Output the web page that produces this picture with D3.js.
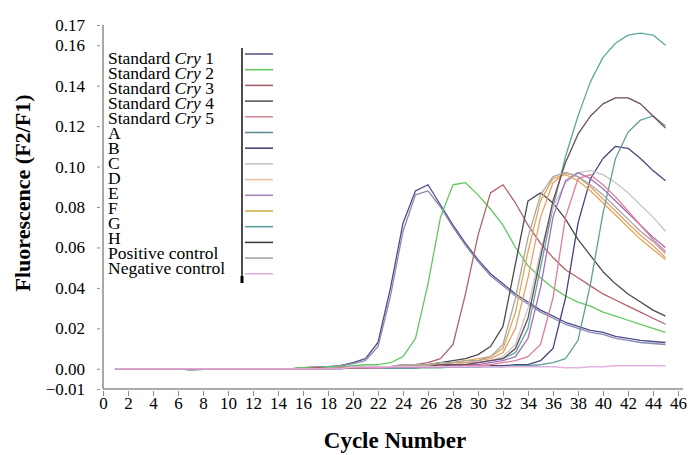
<!DOCTYPE html>
<html>
<head>
  <meta charset="UTF-8">
  <style>
    body { margin: 0; background-color: white; }
    svg { display: block; }
  </style>
</head>
<body>
<svg></svg>
<script src="https://d3js.org/d3.v7.min.js"></script>
<script>

let width = 692, height = 455;
const serifFont = '"Liberation Serif", "Times New Roman", monospace';

// cycle numbers (x) and fluorescence readings (y), one array per sample
const cycles = [1,2,3,4,5,6,7,8,9,10,11,12,13,14,15,16,17,18,19,20,21,22,23,24,25,26,27,28,29,30,31,32,33,34,35,36,37,38,39,40,41,42,43,44,45];

const stdCry1 = [0,0,0,0,0,0,-0.0005,-0.0003,0,0, 0,0,0,0,0,0.0005,0.0008,0.001,0.0015,0.003,
  0.005,0.013,0.040,0.072,0.088,0.091,0.081,0.071,0.062,0.054, 0.047,0.042,0.037,0.033,0.029,0.026,0.023,0.021,0.019,0.018,
  0.016,0.015,0.014,0.0135,0.013];
const stdCry1b = [0,0,0,0,0,0,-0.0005,-0.0003,0,0, 0,0,0,0,0,0.0005,0.0008,0.001,0.0015,0.0025,
  0.004,0.011,0.036,0.068,0.086,0.088,0.080,0.070,0.061,0.053, 0.046,0.041,0.036,0.032,0.028,0.025,0.022,0.020,0.018,0.017,
  0.015,0.014,0.013,0.0125,0.012];
const stdCry2 = [0,0,0,0,0,0,0,0,0,0, 0,0,0,0,0,0.0005,0.0005,0.001,0.001,0.0015,
  0.002,0.002,0.003,0.006,0.015,0.042,0.075,0.091,0.092,0.086, 0.079,0.071,0.060,0.051,0.045,0.040,0.036,0.033,0.031,0.028,
  0.026,0.024,0.022,0.020,0.018];
const stdCry3 = [0,0,0,0,0,0,0,0,0,0, 0,0,0,0,0,0,0.0005,0.0005,0.0005,0.001,
  0.001,0.001,0.001,0.002,0.002,0.003,0.005,0.012,0.037,0.066, 0.087,0.091,0.082,0.071,0.062,0.055,0.049,0.045,0.041,0.037,
  0.034,0.031,0.028,0.025,0.022];
const stdCry4 = [0,0,0,0,0,0,0,0,0,0, 0,0,0,0,0,0,0,0.0005,0.0005,0.0005,
  0.0005,0.001,0.001,0.001,0.002,0.002,0.003,0.004,0.005,0.007, 0.011,0.021,0.052,0.083,0.087,0.082,0.074,0.064,0.056,0.048,
  0.042,0.037,0.033,0.029,0.026];
const stdCry5 = [0,0,0,0,0,0,0,0,0,0, 0,0,0,0,0,0,0,0,0.0005,0.0005,
  0.0005,0.0005,0.001,0.001,0.001,0.001,0.001,0.001,0.0015,0.0015, 0.002,0.003,0.004,0.006,0.012,0.035,0.075,0.094,0.096,0.091,
  0.085,0.078,0.071,0.064,0.058];
const sampleA = [0,0,0,0,0,0,0,0,0,0, 0,0,0,0,0,0,0,0,0.0005,0.0005,
  0.0005,0.0005,0.0005,0.0005,0.0005,0.001,0.001,0.002,0.002,0.003, 0.004,0.005,0.008,0.020,0.050,0.080,0.105,0.125,0.142,0.154,
  0.161,0.165,0.166,0.165,0.160];
const sampleB = [0,0,0,0,0,0,0,0,0,0, 0,0,0,0,0,0,0,0,0,0.0005,
  0.0005,0.0005,0.0005,0.0005,0.0005,0.001,0.001,0.001,0.001,0.001, 0.0015,0.0015,0.002,0.002,0.004,0.010,0.035,0.072,0.094,0.104,
  0.110,0.109,0.104,0.098,0.093];
const sampleC = [0,0,0,0,0,0,0,0,0,0, 0,0,0,0,0,0,0,0,0.0005,0.0005,
  0.0005,0.0005,0.001,0.001,0.001,0.001,0.002,0.002,0.003,0.003, 0.004,0.006,0.012,0.030,0.058,0.080,0.092,0.097,0.098,0.096,
  0.092,0.087,0.081,0.075,0.068];
const sampleD = [0,0,0,0,0,0,0,0,0,0, 0,0,0,0,0,0,0,0,0.0005,0.0005,
  0.0005,0.001,0.001,0.001,0.001,0.002,0.002,0.003,0.003,0.004, 0.005,0.008,0.020,0.045,0.075,0.092,0.097,0.095,0.090,0.084,
  0.078,0.072,0.066,0.061,0.055];
const sampleE = [0,0,0,0,0,0,0,0,0,0, 0,0,0,0,0,0,0,0,0.0005,0.0005,
  0.0005,0.0005,0.001,0.001,0.001,0.001,0.001,0.002,0.002,0.002, 0.003,0.004,0.006,0.015,0.040,0.075,0.093,0.097,0.094,0.089,
  0.083,0.077,0.071,0.065,0.060];
const sampleF = [0,0,0,0,0,0,0,0,0,0, 0,0,0,0,0,0,0,0.0005,0.0005,0.001,
  0.001,0.001,0.001,0.001,0.002,0.002,0.002,0.003,0.004,0.005, 0.006,0.010,0.028,0.058,0.083,0.094,0.096,0.093,0.088,0.082,
  0.076,0.070,0.064,0.059,0.054];
const sampleG = [0,0,0,0,0,0,0,0,0,0, 0,0,0,0,0,0,0,0,0.0005,0.0005,
  0.0005,0.0005,0.0005,0.0005,0.0005,0.0005,0.0005,0.001,0.001,0.001, 0.001,0.001,0.0015,0.0015,0.002,0.003,0.005,0.014,0.042,0.077,
  0.104,0.117,0.123,0.125,0.120];
const sampleH = [0,0,0,0,0,0,0,0,0,0, 0,0,0,0,0,0,0,0.0005,0.0005,0.0005,
  0.0005,0.001,0.001,0.001,0.001,0.001,0.002,0.002,0.002,0.003, 0.004,0.005,0.010,0.025,0.055,0.083,0.102,0.116,0.125,0.131,
  0.134,0.134,0.131,0.125,0.119];
const positiveControl = [0,0,0,0,0,0,0,0,0,0, 0,0,0,0,0,0,0,0.0005,0.0005,0.001,
  0.001,0.001,0.001,0.002,0.002,0.002,0.003,0.003,0.004,0.004, 0.006,0.012,0.035,0.065,0.086,0.095,0.097,0.095,0.091,0.086,
  0.080,0.074,0.068,0.063,0.057];
const negativeControl = [0,0,0,0,0,0,0,0,0,0, 0,0,0,0,0,0,0,0,0,0.001,
  0.001,0.001,0.001,0.001,0.001,0.001,0.001,0.001,0.001,0.001, 0.001,0.001,0.001,0.001,0.001,0.001,0.0005,0.0005,0.001,0.001,
  0.0015,0.0015,0.0015,0.0015,0.0015];

const legendNames = ["Standard Cry 1","Standard Cry 2","Standard Cry 3","Standard Cry 4","Standard Cry 5",
  "A","B","C","D","E","F","G","H","Positive control","Negative control"];
const legendColors = ["#5a5a86","#62c862","#a8606c","#5a5a5a","#d98c9c","#5f8f8f","#454575","#c6c6c6",
  "#e3c3a3","#a784b6","#cdb24e","#5f9f9c","#3f3f3f","#a6a6a6","#e2b2e2"];

const xTicks = [0,2,4,6,8,10,12,14,16,18,20,22,24,26,28,30,32,34,36,38,40,42,44,46];
const yTicks = [-0.01,0.00,0.02,0.04,0.06,0.08,0.10,0.12,0.14,0.16,0.17];

// series to draw (replicate of standard 1 shares its colour)
let series = [
  {vals: stdCry1, color: "#4c4c8c"},
  {vals: stdCry1b, color: "#8a8ab2"},
  {vals: stdCry2, color: "#62c862"},
  {vals: stdCry3, color: "#b2606a"},
  {vals: stdCry4, color: "#4a4a4a"},
  {vals: sampleA, color: "#5fa8a0"},
  {vals: sampleB, color: "#454578"},
  {vals: sampleC, color: "#c6c6c6"},
  {vals: sampleD, color: "#e8a070"},
  {vals: sampleE, color: "#a070b8"},
  {vals: sampleF, color: "#e0a850"},
  {vals: sampleG, color: "#5f9f9c"},
  {vals: sampleH, color: "#6a4a5a"},
  {vals: positiveControl, color: "#a6a6a6"},
  {vals: stdCry5, color: "#e07c9a"},
  {vals: negativeControl, color: "#e2b2e2"}
];

let svg = d3.select("svg")
    .attr("width", width)
    .attr("height", height);

let x = d3.scaleLinear().domain([0, 46]).range([103, 678]);
let y = d3.scaleLinear().domain([-0.01, 0.17]).range([389, 25]);

// axes lines
svg.append("line")
    .attr("x1", 103).attr("x2", 683)
    .attr("y1", y(-0.01)).attr("y2", y(-0.01))
    .attr("stroke", "#8c8c8c").attr("stroke-width", 1.5);
svg.append("line")
    .attr("x1", 103).attr("x2", 103)
    .attr("y1", y(0.17)).attr("y2", y(-0.01))
    .attr("stroke", "#8c8c8c").attr("stroke-width", 1.5);

// x axis
let xAxis = svg.append("g")
    .attr("transform", "translate(0," + (y(-0.01) + 2) + ")")
    .call(d3.axisBottom(x).tickValues(xTicks).tickSize(5).tickSizeOuter(0).tickFormat(d3.format("d")))
    .attr("font-family", serifFont)
    .attr("font-size", 17);
xAxis.select(".domain").remove();
xAxis.selectAll("line").attr("stroke", "#8c8c8c");
xAxis.selectAll("text").attr("dy", "0.6em").attr("fill", "black");

// y axis
let yAxis = svg.append("g")
    .attr("transform", "translate(100,0)")
    .call(d3.axisLeft(y).tickValues(yTicks).tickSize(3).tickSizeOuter(0).tickFormat(d3.format(".2f")))
    .attr("font-family", serifFont)
    .attr("font-size", 17);
yAxis.select(".domain").remove();
yAxis.selectAll("line").attr("stroke", "#8c8c8c");
yAxis.selectAll("text").attr("x", -15).attr("fill", "black");

// curves
let line = d3.line()
    .x((d, i) => x(cycles[i]))
    .y(d => y(d));

svg.append("g")
    .selectAll("path")
    .data(series)
    .enter()
    .append("path")
    .attr("d", d => line(d.vals))
    .attr("fill", "none")
    .attr("stroke", d => d.color)
    .attr("stroke-width", 1.3)
    .attr("stroke-linejoin", "round");

// legend
let legend = svg.append("g")
    .attr("font-family", serifFont)
    .attr("font-size", 17.5);
legend.selectAll("text")
    .data(legendNames)
    .enter()
    .append("text")
    .attr("x", 108)
    .attr("y", (d, i) => 64 + i * 15)
    .each(function(d) {
        let t = d3.select(this);
        if (d.startsWith("Standard Cry")) {
            t.append("tspan").text("Standard ");
            t.append("tspan").attr("font-style", "italic").text("Cry");
            t.append("tspan").text(" " + d.slice(-1));
        } else {
            t.text(d);
        }
    });

legend.selectAll("line.sw")
    .data(legendColors)
    .enter()
    .append("line")
    .attr("class", "sw")
    .attr("x1", 245).attr("x2", 273)
    .attr("y1", (d, i) => 54 + i * 15.7)
    .attr("y2", (d, i) => 54 + i * 15.7)
    .attr("stroke", d => d)
    .attr("stroke-width", 1.6);

legend.append("line")
    .attr("x1", 242).attr("x2", 242)
    .attr("y1", 48).attr("y2", 283)
    .attr("stroke", "black").attr("stroke-width", 1.4);
legend.append("line")
    .attr("x1", 242).attr("x2", 242)
    .attr("y1", 276).attr("y2", 283)
    .attr("stroke", "black").attr("stroke-width", 3);

// axis titles
svg.append("text")
    .attr("transform", "translate(30,193) rotate(-90)")
    .attr("text-anchor", "middle")
    .attr("font-family", serifFont)
    .attr("font-size", 22)
    .attr("font-weight", "bold")
    .text("Fluorescence (F2/F1)");

svg.append("text")
    .attr("x", 395)
    .attr("y", 448)
    .attr("text-anchor", "middle")
    .attr("font-family", serifFont)
    .attr("font-size", 23)
    .attr("font-weight", "bold")
    .text("Cycle Number");

</script>
</body>
</html>
